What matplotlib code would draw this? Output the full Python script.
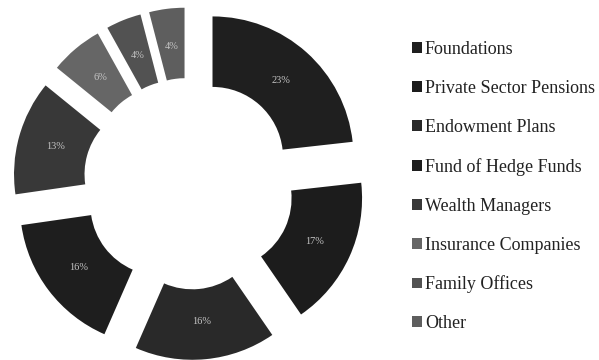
import matplotlib
matplotlib.use("Agg")
import matplotlib.pyplot as plt

# Investor mix, in percent
categories = ["Foundations", "Private Sector Pensions", "Endowment Plans",
              "Fund of Hedge Funds", "Wealth Managers", "Insurance Companies",
              "Family Offices", "Other"]
shares = [23, 17, 16, 16, 13, 6, 4, 4]
colors = ["#1f1f1f", "#1c1c1c", "#292929", "#1e1e1e",
          "#383838", "#666666", "#525252", "#5e5e5e"]

plt.rcParams["font.family"] = ["Liberation Serif", "DejaVu Serif"]

fig = plt.figure(figsize=(5.99, 3.6), dpi=100)
ax = fig.add_axes([0, 0, 380 / 599, 1])

total = sum(shares)
wedges, texts, autotexts = ax.pie(
    shares,
    colors=colors,
    explode=[0.25] * len(shares),
    startangle=90,
    counterclock=False,
    radius=1.0,
    wedgeprops=dict(width=0.5, linewidth=0),
    autopct=lambda p: f"{round(p * total / 100)}%",
    pctdistance=0.73,
    textprops=dict(color="#c4c4c4", fontsize=7.5),
)

ax.set_xlim(-189 / 141, 191 / 141)
ax.set_ylim(-176.3 / 141, 183.7 / 141)
ax.set_aspect("auto")
ax.axis("off")

leg = fig.legend(
    wedges, categories,
    loc="upper left",
    bbox_to_anchor=(412 / 599, 1 - 41 / 360),
    frameon=False,
    fontsize=13,
    handlelength=0.55,
    handleheight=0.55,
    handletextpad=0.17,
    labelspacing=1.215,
    borderaxespad=0,
    borderpad=0,
)
for t in leg.get_texts():
    t.set_color("#222222")

fig.savefig("out.png", dpi=100)
